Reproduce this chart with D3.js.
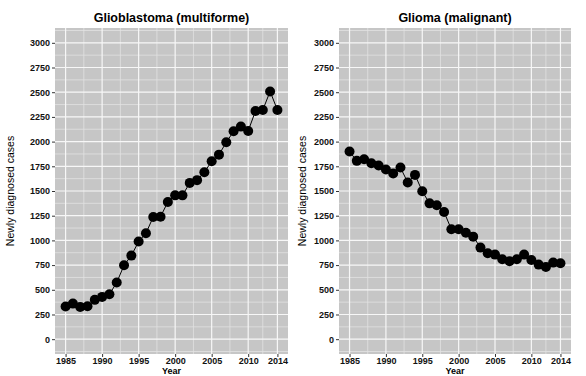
<!DOCTYPE html>
<html><head><meta charset="utf-8">
<script src="https://cdn.jsdelivr.net/npm/d3@7"></script>
<style>body{margin:0;background:#fff}svg{display:block}</style>
</head><body>
<script>
const years = d3.range(1985, 2015);
const glioblastoma = [330,360,327,334,398,428,455,573,748,846,988,1072,1237,1240,1389,1456,1456,1582,1610,1690,1801,1868,1993,2104,2152,2108,2310,2320,2508,2320];
const glioma = [1899,1805,1822,1781,1758,1717,1677,1737,1586,1663,1497,1375,1355,1287,1112,1112,1078,1038,927,870,856,809,789,809,856,802,755,731,775,768];
const titles = ["Glioblastoma (multiforme)", "Glioma (malignant)"];
const xTicks = [1985,1990,1995,2000,2005,2010,2014];
const xMinor = [1987.5,1992.5,1997.5,2002.5,2007.5,2012];
const yTicks = [0,250,500,750,1000,1250,1500,1750,2000,2250,2500,2750,3000];
const yMinor = [-125,125,375,625,875,1125,1375,1625,1875,2125,2375,2625,2875,3125];

const W = 586, H = 376;
const svg = d3.select("body").append("svg").attr("width", W).attr("height", H);
const font = "'Liberation Sans', Arial, Helvetica, sans-serif";

const panels = [
  {left:55, right:288, data:glioblastoma, title:titles[0], ylab:10},
  {left:339, right:571, data:glioma, title:titles[1], ylab:302}
];
const pTop = 28, pBottom = 354;

panels.forEach(p => {
  const x = d3.scaleLinear().domain([1983.55, 2015.45]).range([p.left, p.right]);
  const y = d3.scaleLinear().domain([-150, 3150]).range([pBottom, pTop]);
  const g = svg.append("g");
  g.append("rect").attr("x", p.left).attr("y", pTop).attr("width", p.right - p.left).attr("height", pBottom - pTop).attr("fill", "#c6c6c6");
  g.selectAll(".vmin").data(xMinor).join("line")
    .attr("x1", d => x(d)).attr("x2", d => x(d)).attr("y1", pTop).attr("y2", pBottom)
    .attr("stroke", "#e2e2e2").attr("stroke-width", 0.8);
  g.selectAll(".hmin").data(yMinor).join("line")
    .attr("y1", d => y(d)).attr("y2", d => y(d)).attr("x1", p.left).attr("x2", p.right)
    .attr("stroke", "#e2e2e2").attr("stroke-width", 0.8);
  g.selectAll(".vmaj").data(xTicks).join("line")
    .attr("x1", d => x(d)).attr("x2", d => x(d)).attr("y1", pTop).attr("y2", pBottom)
    .attr("stroke", "#f7f7f7").attr("stroke-width", 1.2);
  g.selectAll(".hmaj").data(yTicks).join("line")
    .attr("y1", d => y(d)).attr("y2", d => y(d)).attr("x1", p.left).attr("x2", p.right)
    .attr("stroke", "#f7f7f7").attr("stroke-width", 1.2);

  const xa = g.append("g").attr("transform", `translate(0,${pBottom})`)
    .call(d3.axisBottom(x).tickValues(xTicks).tickFormat(d3.format("d")).tickSize(3).tickPadding(1));
  const ya = g.append("g").attr("transform", `translate(${p.left},0)`)
    .call(d3.axisLeft(y).tickValues(yTicks).tickFormat(d3.format("d")).tickSize(3).tickPadding(2));
  [xa, ya].forEach(a => {
    a.select(".domain").remove();
    a.selectAll(".tick line").attr("stroke", "#333").attr("stroke-width", 1);
    a.selectAll(".tick text").attr("fill", "#111").style("font-family", font).style("font-size", "9px").style("font-weight", "bold");
  });

  const pts = years.map((yr, i) => [yr, p.data[i]]);
  g.append("path").datum(pts)
    .attr("d", d3.line().x(d => x(d[0])).y(d => y(d[1])))
    .attr("fill", "none").attr("stroke", "#000").attr("stroke-width", 1);
  g.selectAll(".pt").data(pts).join("circle")
    .attr("cx", d => x(d[0])).attr("cy", d => y(d[1])).attr("r", 5).attr("fill", "#000");

  g.append("text").attr("x", (p.left + p.right) / 2).attr("y", 22).attr("text-anchor", "middle")
    .style("font-family", font).style("font-size", "12.5px").style("font-weight", "bold").attr("fill", "#000").text(p.title);
  g.append("text").attr("transform", `translate(${p.ylab + 4},${(pTop + pBottom) / 2}) rotate(-90)`)
    .attr("text-anchor", "middle").style("font-family", font).style("font-size", "10.5px").attr("fill", "#000").text("Newly diagnosed cases");
  g.append("text").attr("x", (p.left + p.right) / 2).attr("y", 373.5).attr("text-anchor", "middle")
    .style("font-family", font).style("font-size", "9px").style("font-weight", "bold").attr("fill", "#000").text("Year");
});
</script>
</body></html>
